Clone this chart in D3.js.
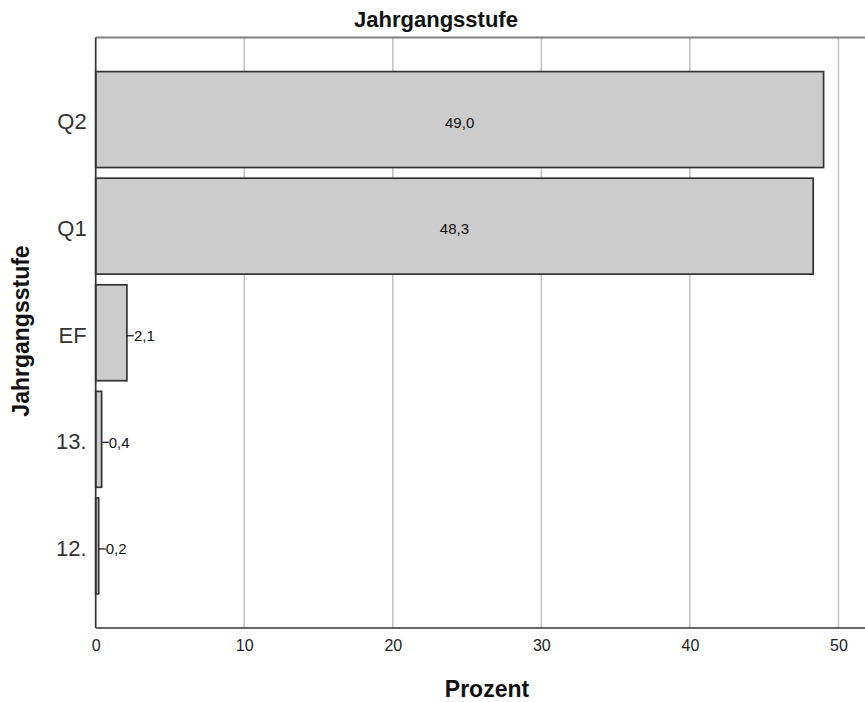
<!DOCTYPE html>
<html><head><meta charset="utf-8">
<script src="https://cdn.jsdelivr.net/npm/d3@7"></script>
<style>body{margin:0;background:#fff}svg{display:block}</style>
</head><body>
<script>
const categories = ["Q2", "Q1", "EF", "13.", "12."];
const values = [49.0, 48.3, 2.1, 0.4, 0.2];
const valueLabels = ["49,0", "48,3", "2,1", "0,4", "0,2"];
const xTicks = [0, 10, 20, 30, 40, 50];
const chartTitle = "Jahrgangsstufe";
const xTitle = "Prozent";
const yTitle = "Jahrgangsstufe";

(function () {
const W = 865, H = 702;
const mLeft = 95.7, mTop = 37.5, mBottom = 628;
const svg = d3.select("body").append("svg").attr("width", W).attr("height", H);
const font = "'Liberation Sans', Arial, sans-serif";

const x = d3.scaleLinear().domain([0, 52]).range([mLeft, mLeft + 14.855 * 52]);
const y = d3.scaleBand().domain(categories).range([mTop, mBottom]).paddingInner(0.1).paddingOuter(0.32);

// gridlines
svg.append("g").selectAll("line").data(xTicks.filter(d => d > 0)).join("line")
  .attr("x1", d => x(d)).attr("x2", d => x(d)).attr("y1", mTop).attr("y2", mBottom)
  .attr("stroke", "#c4c4c4").attr("stroke-width", 1.6);

// top frame line
svg.append("line").attr("x1", mLeft).attr("x2", W).attr("y1", mTop).attr("y2", mTop)
  .attr("stroke", "#808080").attr("stroke-width", 2);

// bars
svg.append("g").selectAll("rect").data(categories).join("rect")
  .attr("x", x(0)).attr("y", d => y(d))
  .attr("width", (d, i) => x(values[i]) - x(0)).attr("height", y.bandwidth())
  .attr("fill", "#cccccc").attr("stroke", "#333333").attr("stroke-width", 1.7);

// x axis
const xAxis = svg.append("g").attr("transform", `translate(0,${mBottom})`)
  .call(d3.axisBottom(x).tickValues(xTicks).tickSize(0).tickPadding(12));
xAxis.select(".domain").attr("stroke", "#333").attr("stroke-width", 1.7).attr("d", `M${mLeft},0H${W}`);
xAxis.selectAll("text").attr("font-family", font).attr("font-size", 16).attr("fill", "#222");

// y axis
const yAxis = svg.append("g").attr("transform", `translate(${mLeft},0)`)
  .call(d3.axisLeft(y).tickSize(0).tickPadding(9));
yAxis.select(".domain").attr("stroke", "#333").attr("stroke-width", 1.7).attr("d", `M0,${mTop}V${mBottom}`);
yAxis.selectAll("text").attr("font-family", font).attr("font-size", 22).attr("fill", "#333").attr("dy", "0.45em");

// value labels
const lab = svg.append("g");
categories.forEach((c, i) => {
  const cy = y(c) + y.bandwidth() / 2 + 3;
  const w = x(values[i]) - x(0);
  if (w > 60) {
    lab.append("text").attr("x", (x(0) + x(values[i])) / 2).attr("y", cy).attr("dy", "0.35em")
      .attr("text-anchor", "middle").attr("font-family", font).attr("font-size", 15).attr("fill", "#111")
      .text(valueLabels[i]);
  } else {
    const xe = x(values[i]);
    lab.append("line").attr("x1", xe).attr("x2", xe + 7).attr("y1", cy).attr("y2", cy)
      .attr("stroke", "#222").attr("stroke-width", 1.3);
    lab.append("text").attr("x", xe + 7).attr("y", cy).attr("dy", "0.35em")
      .attr("font-family", font).attr("font-size", 15).attr("fill", "#111")
      .text(valueLabels[i]);
  }
});

// titles
svg.append("text").attr("x", 436).attr("y", 27).attr("text-anchor", "middle")
  .attr("font-family", font).attr("font-weight", "bold").attr("font-size", 22).attr("fill", "#111").text(chartTitle);
svg.append("text").attr("x", 487).attr("y", 697).attr("text-anchor", "middle")
  .attr("font-family", font).attr("font-weight", "bold").attr("font-size", 23).attr("fill", "#111").text(xTitle);
svg.append("text").attr("transform", "translate(29,331) rotate(-90)").attr("text-anchor", "middle")
  .attr("font-family", font).attr("font-weight", "bold").attr("font-size", 23).attr("fill", "#111").text(yTitle);
})();
</script>
</body></html>
